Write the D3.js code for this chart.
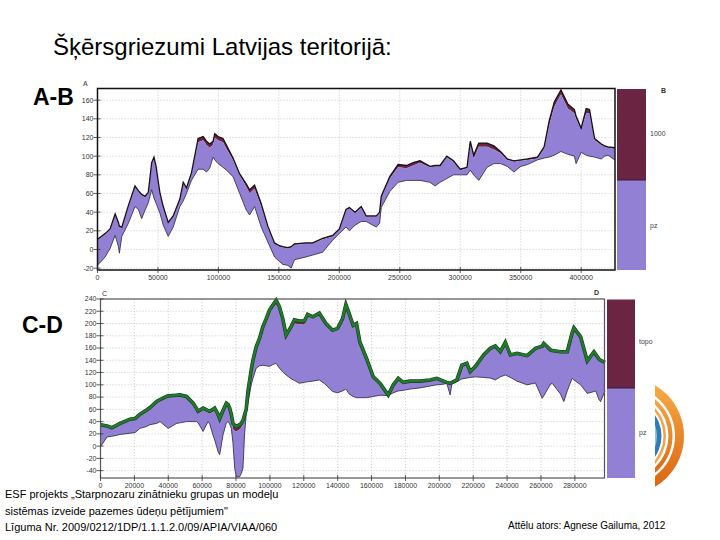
<!DOCTYPE html>
<html><head><meta charset="utf-8">
<script src="https://cdn.jsdelivr.net/npm/d3@7"></script>
<style>body{margin:0;background:#fff}svg{display:block}text{font-family:"Liberation Sans",Arial,sans-serif}</style>
</head><body>
<svg id="c" width="720" height="540"></svg>
<script>
// ---- Chart A-B data ----
const abX   = [0,6300,10400,14600,17300,18100,20100,25500,31000,33800,36500,39300,42000,44800,46700,48300,51600,54400,58500,62600,68100,70900,73600,77700,83200,87400,90100,92800,95600,97000,99700,103800,106600,112100,117600,123100,125800,129900,135400,140900,146400,150500,153300,157400,160200,162900,172500,178000,186200,194500,200000,205500,208300,213000,218100,222200,230600,233300,234700,241700,248600,255600,261100,266700,275000,279200,283300,288900,294400,300000,305600,308300,311100,315300,322200,327800,333300,338900,344400,350000,355600,363900,369400,373600,377800,383300,388900,394400,395800,400000,404200,406900,411100,416700,419400,422200,427800];
const abMid = [10,16,21,37,28,24,23,46,67,62,58,56,60,92,98,89,60,45,28,35,53,71,65,80,115,117,112,109,112,120,117,115,108,96,80,67,60,65,46,24,6,3,2,1,2,5,6,6,11,14,21,42,44,39,45,35,35,39,56,76,88,87,90,93,88,89,89,99,94,85,87,114,97,110,110,107,103,96,94,95,96,97.5,108,133,153,166,151,146,140,128,146,146,117,112,110,109,108];
const abTop = [11,17,22,38,29,25,24,47,68,63,59,57,61,93,99,90,61,46,29,36,54,72,66,82,119,121,116,113,116,124,121,119,112,98,81,70,64,69,49,25,7,4,3,2,3,6,7,7,12,15,22,43,45,40,46,36,36,40,57,78,91,90,93,95,89,90,90,100,95,86,88,116,101,114,114,111,105,97,95,96,97,99,110,138,158,171,156,150,143,130,151,150,119,113,111,110,109];
const abLow = [-17,-8,1,15,3,-4,14,28,46,43,33,42,50,64,55,50,39,26,14,24,46,52,60,74,86,86,83,87,99,96,92,88,85,78,60,42,37,46,24,8,-8,-13,-16,-17,-20,-11,-8,-6,-3,10,17,24,20,26,30,30,24,28,45,62,72,74,74,74,72,68,72,76,80,80,80,85,80,74,88,92,92,89,83,89,91,96,98,99,101,105,102,100,92,104,101,100,99,97,100,101,96];
const abXTicks = [0,50000,100000,150000,200000,250000,300000,350000,400000];
const abYTicks = [-20,0,20,40,60,80,100,120,140,160];

// ---- Chart C-D data ----
const cdX   = [0,3900,6660,11560,17440,20380,23300,27240,29200,33120,35100,39000,40000,44900,46840,50760,54680,56600,57620,60560,63500,64480,66400,67420,69400,70360,72300,74280,75300,76240,77200,78200,79200,80160,82100,83100,84100,85060,86000,87020,89000,89960,91900,93880,95840,97800,99760,101720,103680,105640,107600,109560,112500,114460,117400,120340,122300,125240,129160,133080,137000,139940,142880,144840,146800,149140,151120,153090,157040,161000,164930,169870,172830,175790,178750,182700,188620,194550,198490,202440,204400,206390,207400,210340,213300,216260,218230,221190,226130,230080,233040,236000,238960,241920,245870,251790,256730,260700,261660,265610,266600,271530,273500,275480,278400,279430,283380,287330,291280,292300,294230,295200,297790];
const cdTop = [35,33,30,37,44,45,52,59,63,73,76,81,82,83,83.5,81,70,62,57,62,58,57,60,62,52,45,58,70,68,62,52,37,34,32,35,37,42,51,60,89,125,140,162,176,195,208,222,230,238,227,208,181,195,206,204,204,215,211,217,200,189,192,208,231,216,197,200,170,143,113,102.5,83.5,100,110.6,104,106,106,108,110.6,106,104,102.5,104,108,132,135,121.5,129.7,148.7,159.6,163.4,154,169.3,148.7,151.4,147.6,159.6,163,167.7,157,156,154,154,154,185,193,178.6,139,154,150,142,140,136.7];
const cdMid = [33,31,28,35,42,43,50,57,61,71,74,79,80,81,81,79,68,60,55,59,55,53,56,58,49,42,55,66,64,58,46,28,25,24,27,30,37,47,57,86,122,137,159,173,192,205,218,225,232,220,200,174,190,200,199,198,212,209,215,198,187,190,205,228,213,194,197,168,141,111,101,83,98,109,102,104,104,106,109,104,102,101,102,106,130,133,120,128,147,158,162,152,167,147,150,146,158,162,166,156,155,153,153,153,183,191,177,138,153,149,141,139,136];
const cdLow = [-1,15,16,19,21,22,29,32,35,37,40,31,29,37,38,40,40,40,38,24,40,36,18,10,-9,-14,18,38,40,36,29,5,-36,-50,-50,-45,-36,20,51,70,100,110,127,131,132,131,130,133,135,127,121,116,110,107,102.5,104,105,106,108,100,89,87,90,93,85,81,79,79,79,81,83,82.4,87,90,91,93,95,98,100,101,102.5,83.5,101,105,109.6,111,112,113,112,111,108,113,116,112,106,100,103,78,82,101,102.5,85,72.6,90,110.6,108,100,86,89,90,76,72.6,90];
const cdXTicks = [0,20000,40000,60000,80000,100000,120000,140000,160000,180000,200000,220000,240000,260000,280000];
const cdYTicks = [-40,-20,0,20,40,60,80,100,120,140,160,180,200,220,240];

const title = "Šķērsgriezumi Latvijas teritorijā:";
const footerLines = ["ESF projekts „Starpnozaru zinātnieku grupas un modeļu", "sistēmas izveide pazemes ūdeņu pētījumiem\"", "Līguma Nr. 2009/0212/1DP/1.1.1.2.0/09/APIA/VIAA/060"];
const author = "Attēlu ators: Agnese Gailuma, 2012";

const PURPLE = "#9180d4", MAROON = "#6c2443", GREEN = "#237a2c";
const svg = d3.select("#c");

// Logo (decorative rings, clipped)
const defs = svg.append("defs");
defs.append("clipPath").attr("id","logoClip").append("rect").attr("x",655).attr("y",370).attr("width",65).attr("height",130);
const g1 = defs.append("linearGradient").attr("id","og").attr("x1",0).attr("y1",0).attr("x2",0).attr("y2",1);
g1.append("stop").attr("offset","0%").attr("stop-color","#f6b04a");
g1.append("stop").attr("offset","100%").attr("stop-color","#d9600e");
const logo = svg.append("g").attr("clip-path","url(#logoClip)");
const rings = [[59,"url(#og)"],[50,"#fff"],[47.5,"url(#og)"],[43.5,"#fff"],[41,"#f2a24a"],[38.5,"#fff"],[36.5,"#2f7db3"],[32,"#8cc4e6"],[27,"#d6ecf8"]];
rings.forEach(([r,c])=>logo.append("circle").attr("cx",625).attr("cy",436).attr("r",r).attr("fill",c));

function drawChart(o){
  const x = d3.scaleLinear().domain(o.xd).range([o.x0,o.x1]);
  const y = d3.scaleLinear().domain(o.yd).range([o.y1,o.y0]);
  const g = svg.append("g");
  // grid
  o.xt.forEach(t=>g.append("line").attr("x1",x(t)).attr("x2",x(t)).attr("y1",o.y0).attr("y2",o.y1).attr("stroke","#bdbdbd").attr("stroke-width",0.7).attr("stroke-dasharray","1.2,1.8"));
  o.yt.forEach(t=>g.append("line").attr("x1",o.x0).attr("x2",o.x1).attr("y1",y(t)).attr("y2",y(t)).attr("stroke","#bdbdbd").attr("stroke-width",0.7).attr("stroke-dasharray","1.2,1.8"));
  const rows = o.X.map((v,i)=>({x:v,t:o.T[i],m:o.M[i],l:o.L[i]}));
  g.append("path").datum(rows).attr("fill",MAROON)
    .attr("d",d3.area().x(d=>x(d.x)).y0(d=>y(d.m)).y1(d=>y(d.t)));
  g.append("path").datum(rows).attr("fill",PURPLE)
    .attr("d",d3.area().x(d=>x(d.x)).y0(d=>y(d.l)).y1(d=>y(d.m)));
  g.append("path").datum(rows).attr("fill","none").attr("stroke","#2a2340").attr("stroke-width",0.8)
    .attr("d",d3.line().x(d=>x(d.x)).y(d=>y(d.l)));
  if(o.green){
    g.append("path").datum(rows).attr("fill","none").attr("stroke","#123d18").attr("stroke-width",3.6)
      .attr("d",d3.line().x(d=>x(d.x)).y(d=>y(d.t)));
    g.append("path").datum(rows).attr("fill","none").attr("stroke",GREEN).attr("stroke-width",2.4)
      .attr("d",d3.line().x(d=>x(d.x)).y(d=>y(d.t)));
  } else {
    g.append("path").datum(rows).attr("fill","none").attr("stroke","#1a1016").attr("stroke-width",1.3)
      .attr("d",d3.line().x(d=>x(d.x)).y(d=>y(d.t)));
  }
  // frame
  g.append("rect").attr("x",o.x0).attr("y",o.y0).attr("width",o.x1-o.x0).attr("height",o.y1-o.y0)
    .attr("fill","none").attr("stroke",o.frame).attr("stroke-width",o.fw);
  // y ticks
  o.yt.forEach(t=>{
    g.append("line").attr("x1",o.x0-4).attr("x2",o.x0+3).attr("y1",y(t)).attr("y2",y(t)).attr("stroke","#333").attr("stroke-width",0.8);
    g.append("text").attr("x",o.x0-4).attr("y",y(t)+2.4).attr("text-anchor","end").attr("font-size",7).attr("fill","#333").text(t);
  });
  o.xt.forEach(t=>{
    g.append("line").attr("x1",x(t)).attr("x2",x(t)).attr("y1",o.y1-3).attr("y2",o.y1+3).attr("stroke","#333").attr("stroke-width",0.8);
    g.append("text").attr("x",x(t)).attr("y",o.y1+10).attr("text-anchor","middle").attr("font-size",7).attr("fill","#333").text(t);
  });
  // colorbar
  const cb = o.cb;
  g.append("rect").attr("x",cb.x).attr("y",o.y0+0.5).attr("width",cb.w).attr("height",cb.mid-o.y0).attr("fill",MAROON);
  g.append("rect").attr("x",cb.x).attr("y",cb.mid).attr("width",cb.w).attr("height",o.y1-cb.mid).attr("fill",PURPLE);
  g.append("line").attr("x1",cb.x).attr("x2",cb.x+cb.w).attr("y1",cb.mid).attr("y2",cb.mid).attr("stroke","#3a1a40").attr("stroke-width",1);
  g.append("text").attr("x",cb.x+cb.w+4).attr("y",cb.l1).attr("font-size",7).attr("fill","#444").text(cb.t1);
  g.append("text").attr("x",cb.x+cb.w+4).attr("y",cb.l2).attr("font-size",7).attr("fill","#444").text("pz");
  g.append("text").attr("x",o.labA[0]).attr("y",o.labA[1]).attr("font-size",7).attr("font-family","Liberation Serif, serif").attr("fill","#333").text(o.labA[2]);
  g.append("text").attr("x",o.labB[0]).attr("y",o.labB[1]).attr("font-size",7).attr("font-weight","bold").attr("fill","#333").text(o.labB[2]);
}

drawChart({X:abX,T:abTop,M:abMid,L:abLow,xd:[0,428000],yd:[-22,172.5],x0:97.5,x1:615,y0:88.5,y1:270,
  xt:abXTicks,yt:abYTicks,green:false,frame:"#111",fw:1.5,
  cb:{x:617,w:29,mid:180,t1:"1000",l1:136,l2:228},labA:[83,86,"A"],labB:[661,93,"B"]});
drawChart({X:cdX,T:cdTop,M:cdMid,L:cdLow,xd:[0,297500],yd:[-52,240],x0:100.5,x1:604.5,y0:299,y1:478,
  xt:cdXTicks,yt:cdYTicks,green:true,frame:"#555",fw:1.2,
  cb:{x:607,w:28,mid:388,t1:"topo",l1:344,l2:435},labA:[102,296,"C"],labB:[594,295,"D"]});

svg.append("text").attr("x",53).attr("y",55).attr("font-size",24).attr("fill","#000").text(title);
svg.append("text").attr("x",33).attr("y",105).attr("font-size",23).attr("font-weight","bold").text("A-B");
svg.append("text").attr("x",22).attr("y",333).attr("font-size",23).attr("font-weight","bold").text("C-D");
footerLines.forEach((s,i)=>svg.append("text").attr("x",5).attr("y",498+i*16.5).attr("font-size",11).text(s));
svg.append("text").attr("x",508).attr("y",529).attr("font-size",10).text(author);
</script>
</body></html>
